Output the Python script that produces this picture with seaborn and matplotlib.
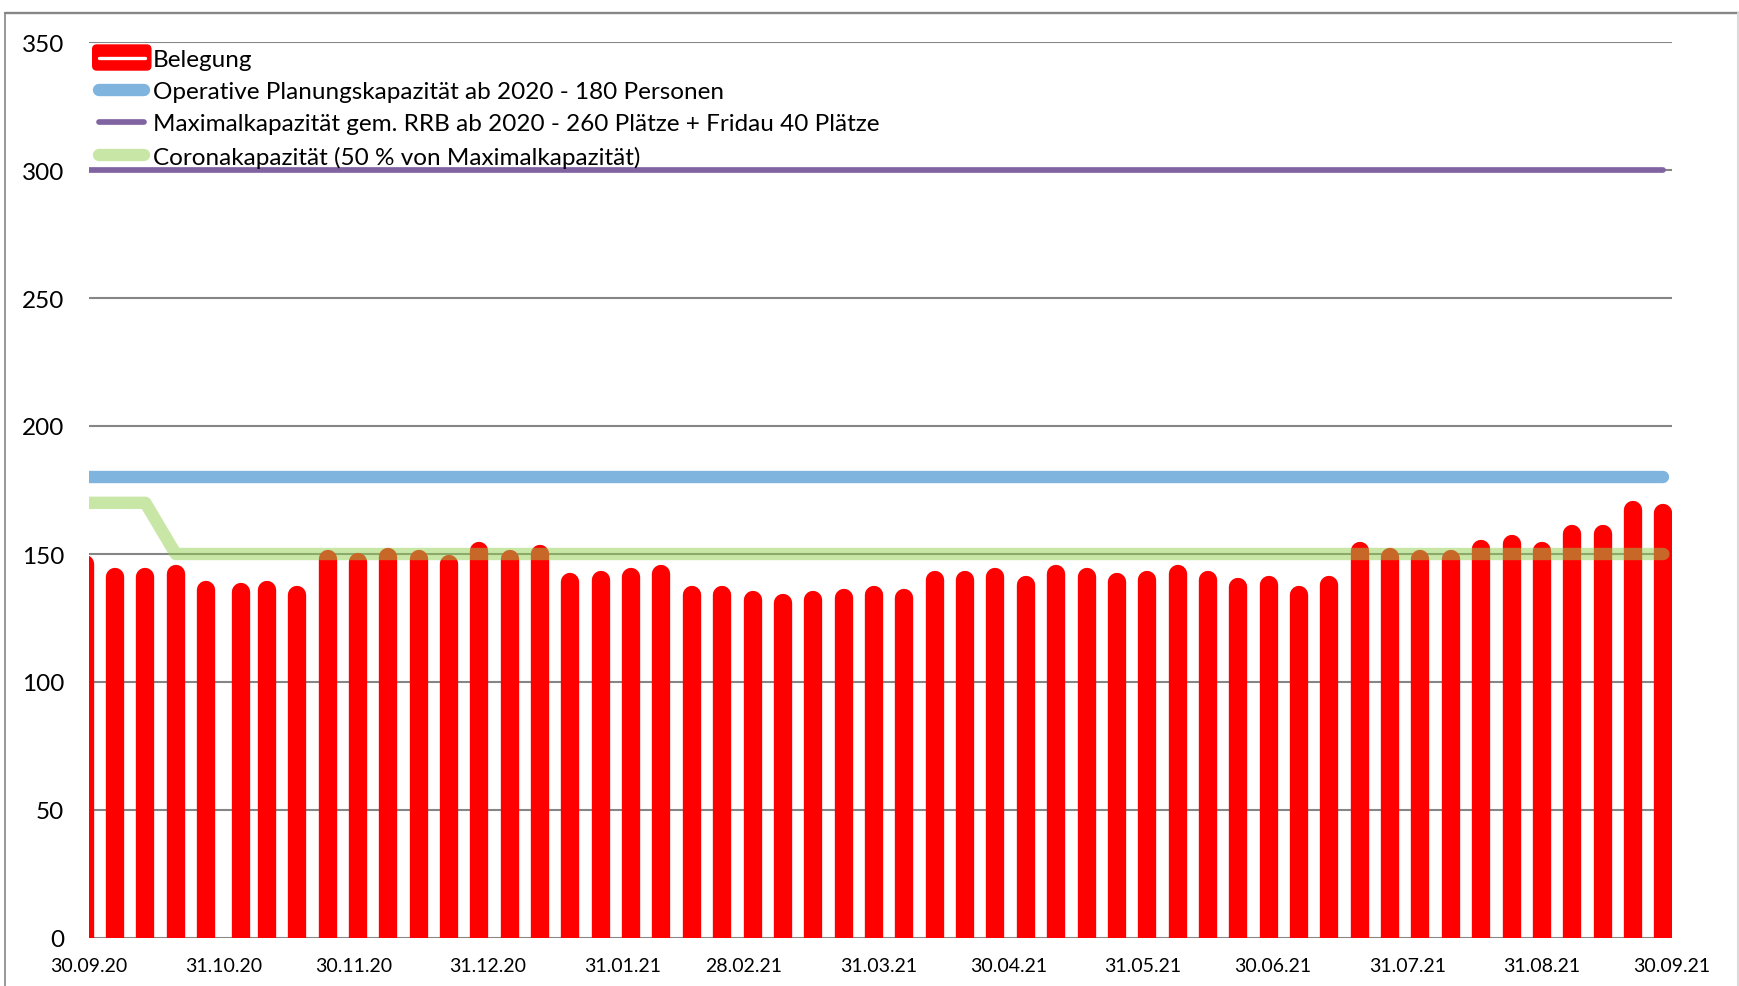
import matplotlib
matplotlib.use("Agg")
import matplotlib.pyplot as plt
from matplotlib.lines import Line2D
from matplotlib.patches import FancyBboxPatch
from matplotlib.legend_handler import HandlerBase
import seaborn as sns
import pandas as pd

# ---------------- data ----------------
dates = ["29.09.20", "06.10.20", "13.10.20", "20.10.20", "27.10.20", "04.11.20",
         "10.11.20", "17.11.20", "24.11.20", "01.12.20", "08.12.20", "15.12.20",
         "22.12.20", "29.12.20", "05.01.21", "12.01.21", "19.01.21", "26.01.21",
         "02.02.21", "09.02.21", "16.02.21", "23.02.21", "02.03.21", "09.03.21",
         "16.03.21", "23.03.21", "30.03.21", "06.04.21", "13.04.21", "20.04.21",
         "27.04.21", "04.05.21", "11.05.21", "18.05.21", "25.05.21", "01.06.21",
         "08.06.21", "15.06.21", "22.06.21", "29.06.21", "06.07.21", "13.07.21",
         "20.07.21", "27.07.21", "03.08.21", "10.08.21", "17.08.21", "24.08.21",
         "31.08.21", "07.09.21", "14.09.21", "21.09.21", "28.09.21"]
belegung = [146, 141, 141, 142, 136, 135, 136, 134, 148, 147, 149, 148,
            146, 151, 148, 150, 139, 140, 141, 142, 134, 134, 132, 131,
            132, 133, 134, 133, 140, 140, 141, 138, 142, 141, 139, 140,
            142, 140, 137, 138, 134, 138, 151, 149, 148, 148, 152, 154,
            151, 158, 158, 167, 166]

op_dates = ["29.09.20", "28.09.21"]
op_values = [180, 180]
max_dates = ["29.09.20", "28.09.21"]
max_values = [300, 300]
corona_dates = ["29.09.20", "13.10.20", "20.10.20", "28.09.21"]
corona_values = [170, 170, 150, 150]

tick_labels = ["30.09.20", "31.10.20", "30.11.20", "31.12.20", "31.01.21", "28.02.21",
               "31.03.21", "30.04.21", "31.05.21", "30.06.21", "31.07.21", "31.08.21",
               "30.09.21"]
y_ticks = [0, 50, 100, 150, 200, 250, 300, 350]

series_names = ["Belegung",
                "Operative Planungskapazität ab 2020 - 180 Personen",
                "Maximalkapazität gem. RRB ab 2020 - 260 Plätze + Fridau 40 Plätze",
                "Coronakapazität (50 % von Maximalkapazität)"]

# ---------------- style ----------------
RED = "#FF0000"
BLUE = "#7EB4DE"
PURPLE = "#8064A2"
GREEN = "#92D050"
GRID = "#868686"

sns.set_theme(style="white")
plt.rcParams["font.family"] = ["Lato", "DejaVu Sans"]

W, H = 1740, 987
fig = plt.figure(figsize=(W / 100, H / 100), dpi=100)
ax = fig.add_axes([89 / W, 1 - 939 / H, (1672 - 89) / W, (939 - 43) / H])

fmt = "%d.%m.%y"
df_bel = pd.DataFrame({"Datum": pd.to_datetime(dates, format=fmt), "Wert": belegung})
df_op = pd.DataFrame({"Datum": pd.to_datetime(op_dates, format=fmt), "Wert": op_values})
df_max = pd.DataFrame({"Datum": pd.to_datetime(max_dates, format=fmt), "Wert": max_values})
df_cor = pd.DataFrame({"Datum": pd.to_datetime(corona_dates, format=fmt), "Wert": corona_values})

# bars as thick rounded strokes
ax.vlines(df_bel["Datum"], 0, df_bel["Wert"], colors=RED, linewidth=13.2,
          capstyle="round", zorder=2)

sns.lineplot(data=df_op, x="Datum", y="Wert", color=BLUE, linewidth=8.9,
             solid_capstyle="round", ax=ax, zorder=3, legend=False)
sns.lineplot(data=df_max, x="Datum", y="Wert", color=PURPLE, linewidth=4.1,
             solid_capstyle="round", ax=ax, zorder=3, legend=False)
sns.lineplot(data=df_cor, x="Datum", y="Wert", color=GREEN, alpha=0.5, linewidth=8.9,
             solid_capstyle="round", solid_joinstyle="round", ax=ax, zorder=4,
             legend=False)

ax.set_xlim(pd.to_datetime(tick_labels[0], format=fmt), pd.to_datetime(tick_labels[-1], format=fmt))
ax.set_ylim(0, 350)
ax.set_xticks(pd.to_datetime(tick_labels, format=fmt))
ax.set_xticklabels(tick_labels)
ax.set_yticks(y_ticks)
ax.set_yticklabels([str(v) for v in y_ticks])
ax.set_xlabel("")
ax.set_ylabel("")

ax.yaxis.grid(True, color=GRID, linewidth=1.5)
ax.xaxis.grid(False)
ax.set_axisbelow(True)
for s in ax.spines.values():
    s.set_visible(False)
ax.tick_params(axis="y", length=0, pad=18, labelsize=17.5, labelcolor="black")
ax.tick_params(axis="x", length=0, pad=14, labelsize=14, labelcolor="black")

# chart area border
fig.add_artist(Line2D([5 / W, 1], [1 - 13.5 / H] * 2, transform=fig.transFigure,
                      color=GRID, lw=1.7))
fig.add_artist(Line2D([5.5 / W] * 2, [0, 1 - 13.5 / H], transform=fig.transFigure,
                      color=GRID, lw=1.2))
fig.add_artist(Line2D([1738.5 / W] * 2, [0, 1 - 13.5 / H], transform=fig.transFigure,
                      color="#D9D9D9", lw=1.5))


# legend
class RoundBoxHandler(HandlerBase):
    def create_artists(self, legend, orig_handle, xdescent, ydescent, width, height,
                       fontsize, trans):
        bh = 19
        cy = height / 2 - ydescent
        box = FancyBboxPatch((-xdescent, cy - bh / 2), width, bh,
                             boxstyle="round,pad=0,rounding_size=3.5",
                             fc=RED, ec="none", transform=trans)
        ln = Line2D([-xdescent + 5, -xdescent + width - 5], [cy, cy], color="white",
                    lw=2.4, transform=trans)
        return [box, ln]


bel_handle = Line2D([], [], color=RED)
handles = [bel_handle,
           Line2D([], [], color=BLUE, lw=8.9, solid_capstyle="round"),
           Line2D([], [], color=PURPLE, lw=4.1, solid_capstyle="round"),
           Line2D([], [], color=GREEN, alpha=0.5, lw=8.9, solid_capstyle="round")]
leg = ax.legend(handles, series_names, loc="upper left",
                bbox_to_anchor=(92 / W, 1 - 50 / H), bbox_transform=fig.transFigure,
                frameon=False, fontsize=17.5, handlelength=2.45, handletextpad=0.05,
                labelspacing=0.46, borderpad=0, borderaxespad=0, numpoints=2,
                handler_map={bel_handle: RoundBoxHandler()})
leg.set_zorder(5)
for t in leg.get_texts():
    t.set_color("black")

fig.savefig("out.png", dpi=100, facecolor="white")
